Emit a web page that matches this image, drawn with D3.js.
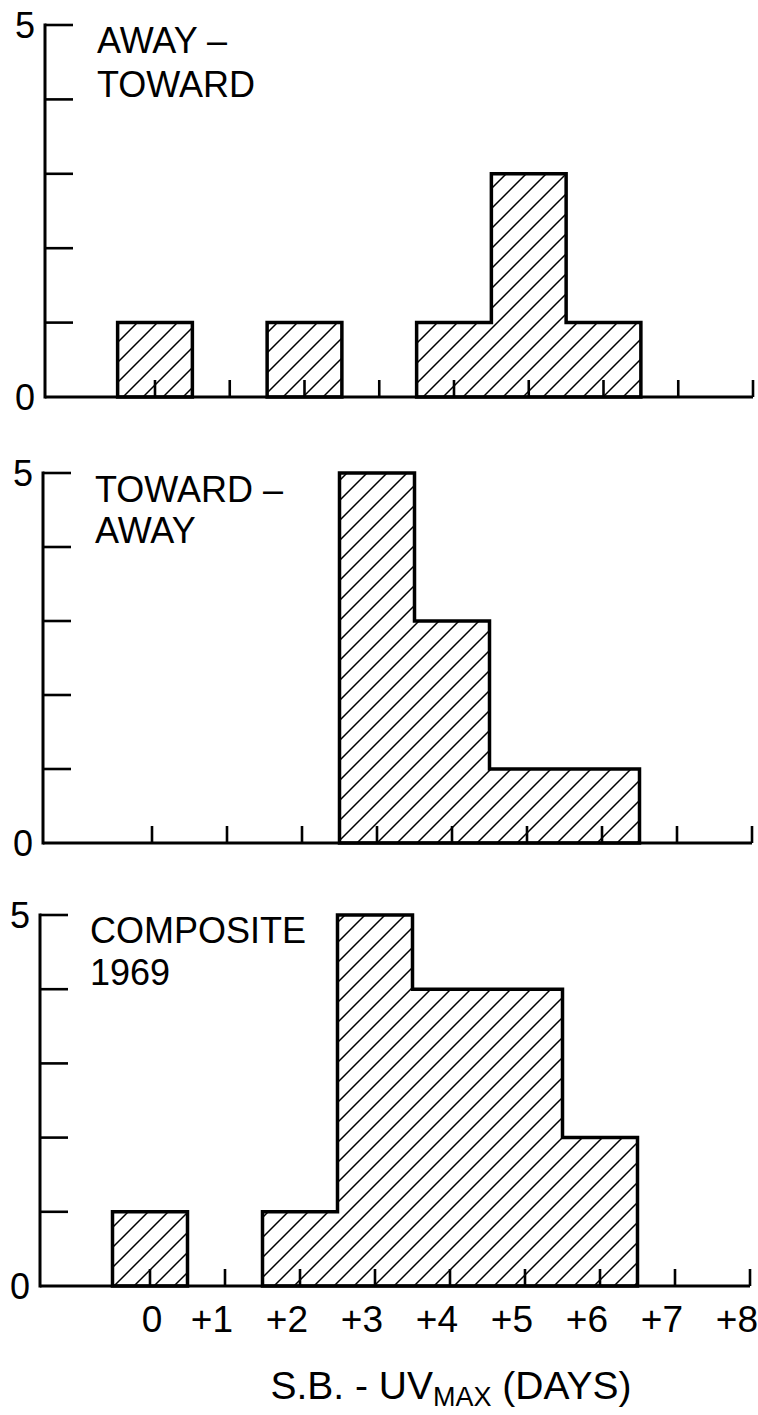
<!DOCTYPE html>
<html>
<head>
<meta charset="utf-8">
<script src="https://cdn.jsdelivr.net/npm/d3@7"></script>
<style>
  html, body { margin: 0; padding: 0; background: #fff; }
  svg { display: block; }
  text { font-family: "Liberation Sans", Arial, sans-serif; fill: #000; }
</style>
</head>
<body>
<svg id="chart" width="758" height="1415"></svg>
<script>
// Days between sector boundary and UV maximum (bin centres)
const days = [0, 1, 2, 3, 4, 5, 6, 7, 8];
const dayLabels = ["0", "+1", "+2", "+3", "+4", "+5", "+6", "+7", "+8"];

// Number of events in each day bin
const awayToward    = [1, 0, 1, 0, 1, 3, 1, 0, 0];
const towardAway    = [0, 0, 0, 5, 3, 1, 1, 0, 0];
const composite1969 = [1, 0, 1, 5, 4, 4, 2, 0, 0];

// Count axis
const countTicks = [0, 1, 2, 3, 4, 5];
const countLabels = ["0", "", "", "", "", "5"];

// Panel headings
const titleAwayToward = ["AWAY \u2013", "TOWARD"];
const titleTowardAway = ["TOWARD \u2013", "AWAY"];
const titleComposite  = ["COMPOSITE", "1969"];

const axisTitle = "S.B. - UV";
const axisTitleSub = "MAX";
const axisTitleEnd = " (DAYS)";

const svg = d3.select("#chart");

// diagonal hatching used for every histogram
svg.append("defs").append("pattern")
  .attr("id", "hatch")
  .attr("patternUnits", "userSpaceOnUse")
  .attr("width", 20).attr("height", 20)
  .append("path")
  .attr("d", "M-5,5 L5,-5 M0,20 L20,0 M15,25 L25,15")
  .attr("stroke", "#000")
  .attr("stroke-width", 1.5)
  .attr("fill", "none");

const panels = [
  { counts: awayToward,    title: titleAwayToward, axisX: 45, y0: 397,  y5: 25,  x0: 155, x8: 753, tx: 97, ty: [53, 97] },
  { counts: towardAway,    title: titleTowardAway, axisX: 43, y0: 843,  y5: 473, x0: 152, x8: 752, tx: 95, ty: [502, 543] },
  { counts: composite1969, title: titleComposite,  axisX: 40, y0: 1286, y5: 915, x0: 150, x8: 750, tx: 90, ty: [943, 985] }
];

panels.forEach((p, pi) => {
  const x = d3.scaleLinear().domain([0, 8]).range([p.x0, p.x8]);
  const y = d3.scaleLinear().domain([0, 5]).range([p.y0, p.y5]);
  const g = svg.append("g");

  // step outlines for each contiguous run of non-empty bins
  const runs = [];
  let cur = null;
  p.counts.forEach((v, i) => {
    if (v > 0) {
      if (!cur) { cur = []; runs.push(cur); }
      cur.push(i);
    } else cur = null;
  });
  const line = d3.line();
  runs.forEach(run => {
    const pts = [[x(days[run[0]] - 0.5), y(0)]];
    run.forEach(i => {
      pts.push([x(days[i] - 0.5), y(p.counts[i])]);
      pts.push([x(days[i] + 0.5), y(p.counts[i])]);
    });
    pts.push([x(days[run[run.length - 1]] + 0.5), y(0)]);
    g.append("path")
      .attr("d", line(pts) + "Z")
      .attr("fill", "url(#hatch)")
      .attr("stroke", "#000")
      .attr("stroke-width", 3.5)
      .attr("stroke-linejoin", "miter");
  });

  // baseline and day ticks
  g.append("line")
    .attr("x1", p.axisX).attr("x2", x(8))
    .attr("y1", y(0)).attr("y2", y(0))
    .attr("stroke", "#000").attr("stroke-width", 3);
  g.selectAll(".xt").data(days).enter().append("line")
    .attr("x1", d => x(d)).attr("x2", d => x(d))
    .attr("y1", y(0)).attr("y2", y(0) - 17)
    .attr("stroke", "#000").attr("stroke-width", 2.6);

  // count axis
  g.append("line")
    .attr("x1", p.axisX).attr("x2", p.axisX)
    .attr("y1", y(0) + 1.5).attr("y2", y(5) - 1.5)
    .attr("stroke", "#000").attr("stroke-width", 3);
  g.selectAll(".yt").data(countTicks.filter(v => v > 0)).enter().append("line")
    .attr("x1", p.axisX).attr("x2", p.axisX + 28)
    .attr("y1", d => y(d)).attr("y2", d => y(d))
    .attr("stroke", "#000").attr("stroke-width", 2.6);
  g.selectAll(".yl").data(countTicks.filter((v, i) => countLabels[i] !== "")).enter().append("text")
    .attr("x", p.axisX - 10)
    .attr("y", d => y(d) + 12.5)
    .attr("text-anchor", "end")
    .attr("font-size", 36)
    .text(d => countLabels[countTicks.indexOf(d)]);

  // panel heading
  p.title.forEach((t, i) => {
    g.append("text")
      .attr("x", p.tx).attr("y", p.ty[i])
      .attr("font-size", 36)
      .text(t);
  });

  // day labels below the last panel
  if (pi === panels.length - 1) {
    g.selectAll(".xl").data(days).enter().append("text")
      .attr("x", d => d === 0 ? x(d) + 2 : x(d) + 8)
      .attr("y", 1332)
      .attr("text-anchor", d => d === 0 ? "middle" : "end")
      .attr("font-size", 37)
      .text((d, i) => dayLabels[i]);

    const t = svg.append("text")
      .attr("x", 451).attr("y", 1399)
      .attr("text-anchor", "middle")
      .attr("font-size", 39);
    t.append("tspan").text(axisTitle);
    t.append("tspan").attr("font-size", 27).attr("dy", 7).text(axisTitleSub);
    t.append("tspan").attr("dy", -7).text(axisTitleEnd);
  }
});
</script>
</body>
</html>
